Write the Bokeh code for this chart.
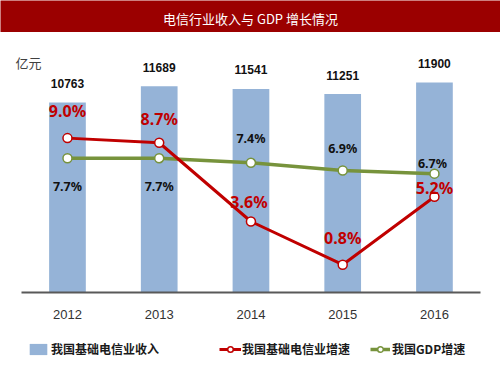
from bokeh.plotting import figure
from bokeh.models import (ColumnDataSource, Range1d, Label, Legend, LegendItem, FixedTicker)
from bokeh.layouts import column
from bokeh.core.properties import value
from bokeh.embed import file_html
from bokeh.resources import INLINE

# ---- data ----
years = [2012, 2013, 2014, 2015, 2016]
year_labels = ["2012", "2013", "2014", "2015", "2016"]
income = [10763, 11689, 11541, 11251, 11900]          # 我国基础电信业收入 (亿元)
telecom_growth = [9.0, 8.7, 3.6, 0.8, 5.2]            # 我国基础电信业增速 (%)
gdp_growth = [7.7, 7.7, 7.4, 6.9, 6.7]                # 我国GDP增速 (%)

title_text = "电信行业收入与 GDP 增长情况"
unit_text = "亿元"
legend_names = ["我国基础电信业收入", "我国基础电信业增速", "我国GDP增速"]

# ---- styles ----
BAR = "#95B3D7"
RED = "#C00000"
GREEN = "#77933C"
TITLE_BG = "#9B0000"
CJK = "Noto Sans CJK SC"

# label offsets (pixels, style only; positive = down)
red_dy = [-27, -24, -19, -27, -9]
red_dx = [0, 0, -2, 0, 0]
gdp_dy = [28, 28, -24, -22, -10]
gdp_dx = [0, 0, 0, 0, -2]

# ---- title bar ----
top = figure(width=500, height=32, toolbar_location=None, output_backend="svg",
             x_range=Range1d(0, 1), y_range=Range1d(0, 1),
             x_axis_location=None, y_axis_location=None,
             min_border=0, min_border_left=0, min_border_right=0,
             min_border_top=0, min_border_bottom=0)
top.background_fill_color = TITLE_BG
top.border_fill_color = TITLE_BG
top.outline_line_color = None
top.grid.visible = False
top.add_layout(Label(x=0.5, y=0.5, text=title_text, text_align="center",
                     text_baseline="middle", text_color="white",
                     text_font=CJK, text_font_size="13px", y_offset=-2))

# ---- main chart ----
p = figure(width=500, height=343, toolbar_location=None, output_backend="svg",
           x_range=Range1d(2011.27, 2016.72),
           y_range=Range1d(-4704, 14737), y_axis_location=None,
           min_border=0, min_border_left=0, min_border_right=0,
           min_border_top=0, min_border_bottom=0)
p.extra_y_ranges = {"pct": Range1d(-6.3765, 15.842)}
p.outline_line_color = None
p.grid.visible = False
p.background_fill_color = "white"
p.border_fill_color = "white"

src = ColumnDataSource(dict(
    years=years, income=income,
    income_txt=[str(v) for v in income],
    tel=telecom_growth, tel_txt=[f"{v:.1f}%" for v in telecom_growth],
    gdp=gdp_growth, gdp_txt=[f"{v:.1f}%" for v in gdp_growth],
    red_dy=red_dy, red_dx=red_dx, gdp_dy=gdp_dy, gdp_dx=gdp_dx,
))

bars = p.vbar(x="years", top="income", width=0.4, bottom=0, source=src,
              fill_color=BAR, line_color=None)

gl = p.line(x="years", y="gdp", source=src, y_range_name="pct",
            line_color=GREEN, line_width=3.5)
gs = p.scatter(x="years", y="gdp", source=src, y_range_name="pct",
               size=9, fill_color="white", line_color=GREEN, line_width=1.5)
rl = p.line(x="years", y="tel", source=src, y_range_name="pct",
            line_color=RED, line_width=3)
rs = p.scatter(x="years", y="tel", source=src, y_range_name="pct",
               size=9, fill_color="white", line_color=RED, line_width=1.5)

# value labels
p.text(x="years", y="income", text="income_txt", source=src,
       y_offset=-19, text_align="center", text_baseline="middle",
       text_font=value("Liberation Sans"), text_font_style="bold",
       text_font_size="12px", text_color="#111111")
p.text(x="years", y="tel", text="tel_txt", source=src, y_range_name="pct",
       x_offset="red_dx", y_offset="red_dy",
       text_align="center", text_baseline="middle",
       text_font=value("Noto Sans"), text_font_style="bold",
       text_font_size="16px", text_color=RED)
p.text(x="years", y="gdp", text="gdp_txt", source=src, y_range_name="pct",
       x_offset="gdp_dx", y_offset="gdp_dy",
       text_align="center", text_baseline="middle",
       text_font=value("Noto Sans"), text_font_style="bold",
       text_font_size="12.5px", text_color="#111111")

# unit label
p.add_layout(Label(x=28, y=313, x_units="screen", y_units="screen", text=unit_text,
                   text_align="center", text_baseline="middle",
                   text_font=CJK, text_font_size="13px", text_color="#404040"))

# x axis drawn at y = 0 inside the frame
ax = p.xaxis[0]
ax.fixed_location = 0
ax.bounds = (years[0] - 0.5, years[-1] + 0.5)
ax.ticker = FixedTicker(ticks=years)
ax.major_label_overrides = {y: s for y, s in zip(years, year_labels)}
ax.axis_line_color = "#595959"
ax.axis_line_width = 2
ax.major_tick_line_color = None
ax.minor_tick_line_color = None
ax.major_tick_out = 0
ax.major_tick_in = 0
ax.major_label_standoff = 17
ax.major_label_text_font = "Liberation Sans"
ax.major_label_text_font_size = "13px"
ax.major_label_text_color = "#333333"

# legends (three separate ones for uneven spacing)
def make_legend(label, renderers, x, gw, standoff):
    lg = Legend(items=[LegendItem(label=label, renderers=renderers)],
                location=(x, 18), orientation="horizontal",
                padding=0, margin=0, spacing=0,
                glyph_width=gw, glyph_height=14, label_height=14,
                label_standoff=standoff,
                label_text_font=CJK, label_text_font_style="bold",
                label_text_font_size="12px", label_text_color="#1a1a1a",
                border_line_color=None, background_fill_alpha=0)
    p.add_layout(lg)

make_legend(legend_names[0], [bars], 27, 22, 2)
make_legend(legend_names[1], [rl, rs], 219, 22, 1)
make_legend(legend_names[2], [gl, gs], 370, 20, 2)

layout = column(top, p, spacing=0)
open("out.html", "w").write(file_html(layout, INLINE))
